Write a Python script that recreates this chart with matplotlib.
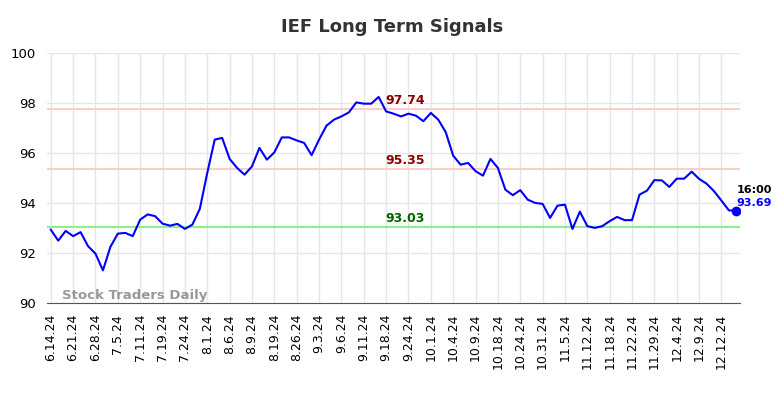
import matplotlib
matplotlib.use("Agg")
import matplotlib.pyplot as plt

# closing prices, one per trading session shown
prices = [
    92.93, 92.49, 92.88, 92.67, 92.83, 92.27, 91.97, 91.30, 92.24, 92.77,
    92.80, 92.67, 93.33, 93.54, 93.47, 93.17, 93.09, 93.16, 92.96, 93.13,
    93.76, 95.20, 96.53, 96.60, 95.76, 95.40, 95.13, 95.46, 96.20, 95.73,
    96.02, 96.62, 96.62, 96.50, 96.40, 95.91, 96.53, 97.09, 97.33, 97.46,
    97.62, 98.02, 97.97, 97.97, 98.24, 97.66, 97.57, 97.46, 97.57, 97.49,
    97.27, 97.60, 97.33, 96.83, 95.89, 95.53, 95.60, 95.27, 95.09, 95.76,
    95.40, 94.53, 94.31, 94.51, 94.13, 94.00, 93.96, 93.40, 93.89, 93.93,
    92.96, 93.65, 93.07, 93.00, 93.07, 93.27, 93.44, 93.31, 93.31, 94.33,
    94.49, 94.91, 94.90, 94.64, 94.97, 94.97, 95.25, 94.96, 94.77, 94.47,
    94.09, 93.70, 93.69,
]
tick_labels = [
    "6.14.24", "6.21.24", "6.28.24", "7.5.24", "7.11.24", "7.19.24", "7.24.24",
    "8.1.24", "8.6.24", "8.9.24", "8.19.24", "8.26.24", "9.3.24", "9.6.24",
    "9.11.24", "9.18.24", "9.24.24", "10.1.24", "10.4.24", "10.9.24",
    "10.18.24", "10.24.24", "10.31.24", "11.5.24", "11.12.24", "11.18.24",
    "11.22.24", "11.29.24", "12.4.24", "12.9.24", "12.12.24",
]
tick_step = 3
levels = [97.74, 95.35, 93.03]
level_colors = ["#ffcccc", "#ffcccc", "#90ee90"]
label_colors = ["darkred", "darkred", "darkgreen"]
last_time = "16:00"

fig = plt.figure(figsize=(7.84, 3.98), dpi=100)
ax = fig.add_axes([0.06, 0.239, 0.884, 0.628])

x = list(range(len(prices)))
ax.plot(x, prices, color="blue", linewidth=1.5, zorder=3)
ax.plot(x[-1], prices[-1], "o", color="blue", markersize=6, zorder=4)

for lvl, lc, tc in zip(levels, level_colors, label_colors):
    ax.axhline(lvl, color=lc, linewidth=1.5, zorder=2)
    ax.text(47.5, lvl + 0.08, f"{lvl:.2f}", color=tc, fontsize=9,
            fontweight="bold", ha="center", va="bottom", zorder=5)

ax.text(len(prices) - 1, prices[-1] + 0.62, last_time, fontsize=8,
        fontweight="bold", color="black", ha="left", va="bottom")
ax.text(len(prices) - 1, prices[-1] + 0.1, f"{prices[-1]:.2f}", fontsize=8,
        fontweight="bold", color="blue", ha="left", va="bottom")

ax.text(1.5, 90.05, "Stock Traders Daily", fontsize=9.5, fontweight="bold",
        color="gray", alpha=0.8, ha="left", va="bottom")

ax.set_xlim(-0.5, len(prices) - 0.5)
ax.set_ylim(90, 100)
ax.set_yticks([90, 92, 94, 96, 98, 100])
ax.set_xticks(range(0, len(tick_labels) * tick_step, tick_step))
ax.set_xticklabels(tick_labels, rotation=90, fontsize=9)
ax.tick_params(axis="y", labelsize=9.5, length=0, pad=8)
ax.tick_params(axis="x", length=0, pad=8)
ax.grid(True, color="#e6e6e6", linewidth=1)
ax.set_axisbelow(True)
for side in ["top", "right", "left"]:
    ax.spines[side].set_visible(False)
ax.spines["bottom"].set_color("#555555")

fig.suptitle("IEF Long Term Signals", fontsize=13, fontweight="bold",
             color="#333333", y=0.955)

fig.savefig("out.png", dpi=100)
